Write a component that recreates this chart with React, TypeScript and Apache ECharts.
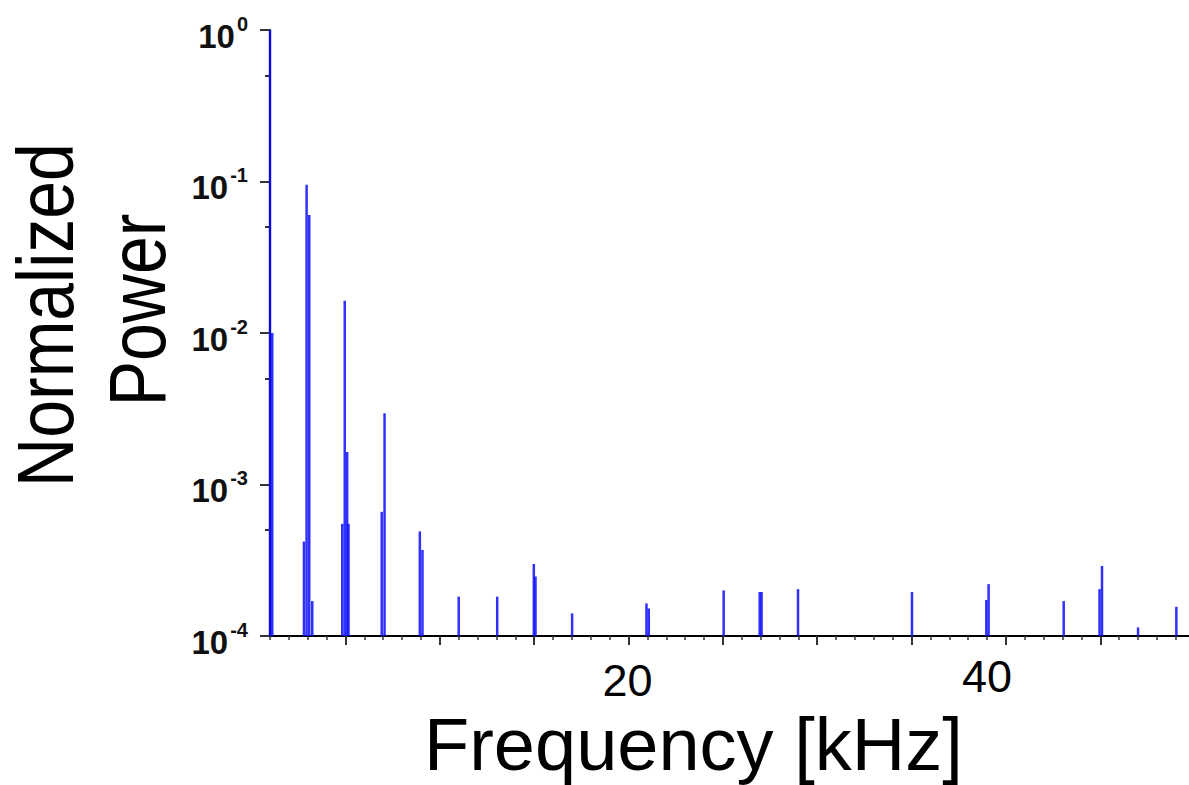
import React, { useEffect, useRef } from "react";
import * as echarts from "echarts";

// Spectrum lines: frequency (kHz) and normalized power
const freqKHz = [
  1.0, 1.12, 2.8, 2.94, 3.08, 3.24, 4.83, 4.96, 5.09, 5.16, 6.92, 7.07, 8.94,
  9.08, 11.0, 13.04, 14.98, 15.07, 17.01, 20.95, 21.07, 25.04, 26.95, 27.05,
  28.98, 35.02, 38.96, 39.08, 43.06, 44.96, 45.09, 47.0, 49.03,
];
const power = [
  1.0, 0.01, 4.2e-4, 0.095, 0.06, 1.7e-4, 5.5e-4, 0.0163, 1.64e-3, 5.5e-4,
  6.6e-4, 2.95e-3, 4.9e-4, 3.7e-4, 1.82e-4, 1.82e-4, 2.99e-4, 2.47e-4, 1.41e-4,
  1.64e-4, 1.52e-4, 2.0e-4, 1.95e-4, 1.95e-4, 2.04e-4, 1.95e-4, 1.73e-4,
  2.2e-4, 1.7e-4, 2.04e-4, 2.9e-4, 1.14e-4, 1.56e-4,
];

const xMajorTicks = [5, 10, 15, 20, 25, 30, 35, 40, 45];
const xMinorTicks = Array.from({ length: 49 }, (_, i) => i + 1);
const xTickLabels = [20, 40];
const yMinorTicks = [0.5, 0.05, 0.005, 0.0005];

const X_MIN = 1;
const X_MAX = 49.7;
const Y_MIN = 1e-4;
const Y_MAX = 1;

const FONT = "'Liberation Sans', Arial, Helvetica, sans-serif";

export default function App() {
  const ref = useRef<HTMLDivElement>(null);

  useEffect(() => {
    if (!ref.current) return;
    const chart = echarts.init(ref.current, null, { renderer: "svg" });
    const data = freqKHz.map((f, i) => [f, power[i]]);

    const option: any = {
      animation: false,
      backgroundColor: "#ffffff",
      grid: { left: 270, right: 0, top: 30, bottom: 149, containLabel: false },
      xAxis: [
        {
          type: "value",
          min: X_MIN,
          max: X_MAX,
          position: "bottom",
          axisLine: { show: true, lineStyle: { color: "#000", width: 2 } },
          axisTick: {
            show: true,
            customValues: xMajorTicks,
            length: 9,
            lineStyle: { color: "#333", width: 2 },
          },
          axisLabel: {
            show: true,
            customValues: xTickLabels,
            margin: 18,
            formatter: (v: number) => (v === 40 ? `{b|${v}}` : `{a|${v}}`),
            rich: {
              a: {
                fontSize: 45,
                fontFamily: FONT,
                color: "#000",
                lineHeight: 36,
                padding: [17, 2, 0, 0],
              },
              b: {
                fontSize: 45,
                fontFamily: FONT,
                color: "#000",
                lineHeight: 36,
                padding: [8, 38, 0, 0],
              },
            },
          },
          splitLine: { show: false },
        },
        {
          type: "value",
          min: X_MIN,
          max: X_MAX,
          position: "bottom",
          axisLine: { show: false },
          axisTick: {
            show: true,
            customValues: xMinorTicks,
            length: 4,
            lineStyle: { color: "#333", width: 1.5 },
          },
          axisLabel: { show: false },
          splitLine: { show: false },
        },
      ],
      yAxis: [
        {
          type: "log",
          logBase: 10,
          min: Y_MIN,
          max: Y_MAX,
          position: "left",
          axisLine: { show: true, lineStyle: { color: "#000", width: 2 } },
          axisTick: { show: true, length: 10, lineStyle: { color: "#333", width: 2 } },
          axisLabel: {
            show: true,
            margin: 22,
            formatter: (v: number) => {
              const e = Math.round(Math.log10(v));
              return `{b|10}{e|${e}}`;
            },
            rich: {
              b: {
                fontSize: 33,
                fontWeight: "bold",
                fontFamily: FONT,
                color: "#111",
                lineHeight: 33,
                padding: [12, 2, 0, 0],
              },
              e: {
                fontSize: 20,
                fontWeight: "bold",
                fontFamily: FONT,
                color: "#111",
                lineHeight: 20,
                verticalAlign: "top",
              },
            },
          },
          splitLine: { show: false },
        },
        {
          type: "log",
          logBase: 10,
          min: Y_MIN,
          max: Y_MAX,
          position: "left",
          axisLine: { show: false },
          axisTick: {
            show: true,
            customValues: yMinorTicks,
            length: 5,
            lineStyle: { color: "#333", width: 2 },
          },
          axisLabel: { show: false },
          splitLine: { show: false },
        },
      ],
      series: [
        {
          type: "custom",
          xAxisIndex: 0,
          yAxisIndex: 0,
          data,
          clip: false,
          renderItem: (params: any, api: any) => {
            const x = api.value(0);
            const y = api.value(1);
            const p0 = api.coord([x, Y_MIN]);
            const p1 = api.coord([x, y]);
            return {
              type: "line",
              shape: { x1: p0[0], y1: p0[1], x2: p1[0], y2: p1[1] },
              style: { stroke: "#0c0cff", lineWidth: 2.5, opacity: 0.85 },
            };
          },
        },
      ],
      graphic: [
        {
          type: "text",
          x: 46,
          y: 315,
          rotation: Math.PI / 2,
          scaleY: 1.17,
          style: {
            text: "Normalized",
            fontSize: 68,
            fontFamily: FONT,
            fill: "#000",
            align: "center",
            verticalAlign: "middle",
          },
        },
        {
          type: "text",
          x: 138,
          y: 310,
          rotation: Math.PI / 2,
          scaleY: 1.17,
          style: {
            text: "Power",
            fontSize: 68,
            fontFamily: FONT,
            fill: "#000",
            align: "center",
            verticalAlign: "middle",
          },
        },
        {
          type: "text",
          x: 424,
          y: 744,
          style: {
            text: "Frequency [kHz]",
            fontSize: 74,
            lineHeight: 60,
            fontFamily: FONT,
            fill: "#000",
            align: "left",
            verticalAlign: "middle",
          },
        },
      ],
    };

    chart.setOption(option);
    return () => chart.dispose();
  }, []);

  return (
    <div
      ref={ref}
      style={{ position: "absolute", left: 0, top: 0, width: 1189, height: 785 }}
    />
  );
}
